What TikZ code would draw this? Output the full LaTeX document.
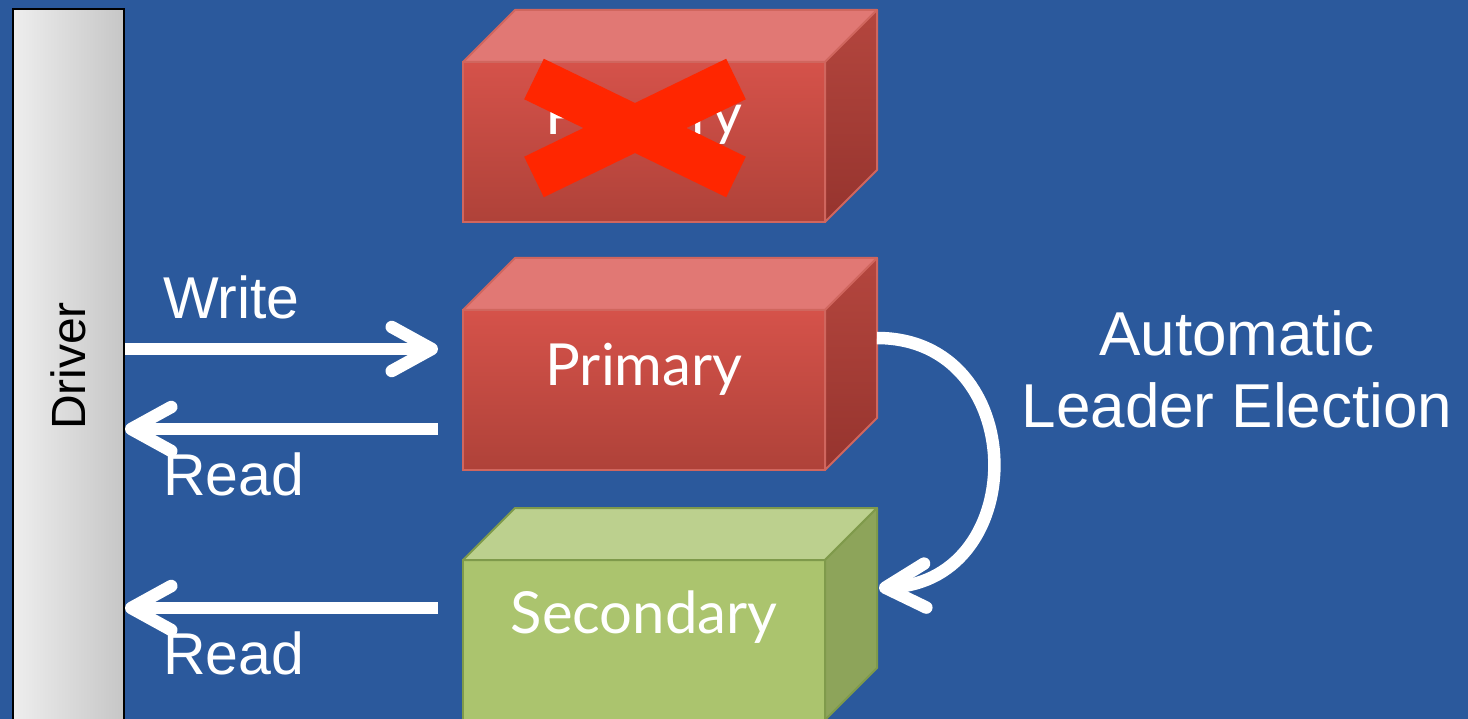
\documentclass[tikz,border=0pt]{standalone}
\usepackage{fontspec}
\setmainfont{Liberation Sans}
\newfontfamily\boxfont{Lato}
\usetikzlibrary{arrows.meta,calc}

\definecolor{slidebg}{RGB}{43,89,156}
\definecolor{redfronttop}{RGB}{213,82,74}
\definecolor{redfrontbot}{RGB}{175,66,57}
\definecolor{redtop}{RGB}{225,120,116}
\definecolor{redsidetop}{RGB}{180,70,62}
\definecolor{redsidebot}{RGB}{150,52,46}
\definecolor{rededge}{RGB}{208,102,94}
\definecolor{greenfront}{RGB}{171,196,110}
\definecolor{greentop}{RGB}{188,208,142}
\definecolor{greenside}{RGB}{141,164,90}
\definecolor{greenedge}{RGB}{127,154,75}
\definecolor{crossred}{RGB}{255,38,0}
\definecolor{drvlight}{RGB}{238,238,238}
\definecolor{drvdark}{RGB}{198,198,198}

% top face and right face of a cuboid behind a front-face node
% #1 node, #2 edge colour, #3 top-face fill, #4 side-face fill
\newcommand\cubefaces[4]{%
  \filldraw[draw=#2,line width=2pt,line join=round,#3]
    (#1.north west) -- ++(52,-52) -- ($(#1.north east)+(52,-52)$)
    -- (#1.north east) -- cycle;
  \filldraw[draw=#2,line width=2pt,line join=round,#4]
    (#1.north east) -- ++(52,-52) -- ($(#1.south east)+(52,-52)$)
    -- (#1.south east) -- cycle;
}

\begin{document}
\begin{tikzpicture}[x=1pt,y=-1pt,
  frontface/.style={rectangle,outer sep=0pt,inner sep=0pt,line width=2pt,
    minimum width=362pt,minimum height=160pt},
  redfront/.style={frontface,draw=rededge,top color=redfronttop,bottom color=redfrontbot},
  greenfront/.style={frontface,draw=greenedge,fill=greenfront},
  boxtext/.style={text=white,font=\boxfont\fontsize{58}{70}\selectfont,anchor=base},
  lbl/.style={text=white,font=\fontsize{59}{70}\selectfont,inner sep=0pt},
  flow/.style={draw=white,line width=12.5pt,
    -{Straight Barb[length=40pt,width=44pt,round]}},
  crossbar/.style={draw=crossred,line width=45pt,line cap=butt},
]
\clip (0,0) rectangle (1468,719);
\fill[slidebg] (0,0) rectangle (1468,719);

% driver bar
\node[rectangle,draw=black,line width=2pt,left color=drvlight,right color=drvdark,
  minimum width=111pt,minimum height=714pt,anchor=north west,inner sep=0pt]
  (driver) at (12,8) {\rotatebox{90}{\fontsize{48}{58}\selectfont Driver}};

% failed primary, crossed out
\node[redfront] (failed) at (644,142) {};
\cubefaces{failed}{rededge}{fill=redtop}{top color=redsidetop,bottom color=redsidebot}
\node[boxtext] (failedtext) at ($(failed.north)+(0,73)$) {Primary};
\coordinate (xc) at ($(failed.center)+(-9,-14)$);
\draw[crossbar] (xc) ++(-101,-49) -- ++(202,98);
\draw[crossbar] (xc) ++(-101,49) -- ++(202,-98);

% primary
\node[redfront] (primary) at (644,390) {};
\cubefaces{primary}{rededge}{fill=redtop}{top color=redsidetop,bottom color=redsidebot}
\node[boxtext] (primarytext) at ($(primary.north)+(0,75)$) {Primary};

% secondary
\node[greenfront] (secondary) at (644,640) {};
\cubefaces{secondary}{greenedge}{fill=greentop}{fill=greenside}
\node[boxtext] (secondarytext) at ($(secondary.north)+(0,73)$) {Secondary};

% write / read connectors
\coordinate (wend) at ([yshift=41pt]primary.west);
\coordinate (r1start) at ([yshift=-39pt]primary.west);
\coordinate (r2start) at ([yshift=32pt]secondary.west);
\draw[flow,shorten >=25pt] (driver.east |- wend) -- (wend);
\draw[flow,shorten <=25pt] (r1start) -- (driver.east |- r1start);
\draw[flow,shorten <=25pt] (r2start) -- (driver.east |- r2start);

\node[lbl,anchor=base west] (write) at (163,319) {Write};
\node[lbl,anchor=base west] (read1) at (163,495) {Read};
\node[lbl,anchor=base west] (read2) at (163,674) {Read};

% leader election
\draw[flow] ($(primary.east)+(52,-52)$) .. controls +(153,0) and +(153,-8) ..
  ($(secondary.east)+(54,-52)$);
\node[text=white,font=\fontsize{62}{73}\selectfont,align=center,anchor=base,inner sep=0pt]
  (election) at (1237,428) {Automatic\\Leader Election};
\end{tikzpicture}
\end{document}
